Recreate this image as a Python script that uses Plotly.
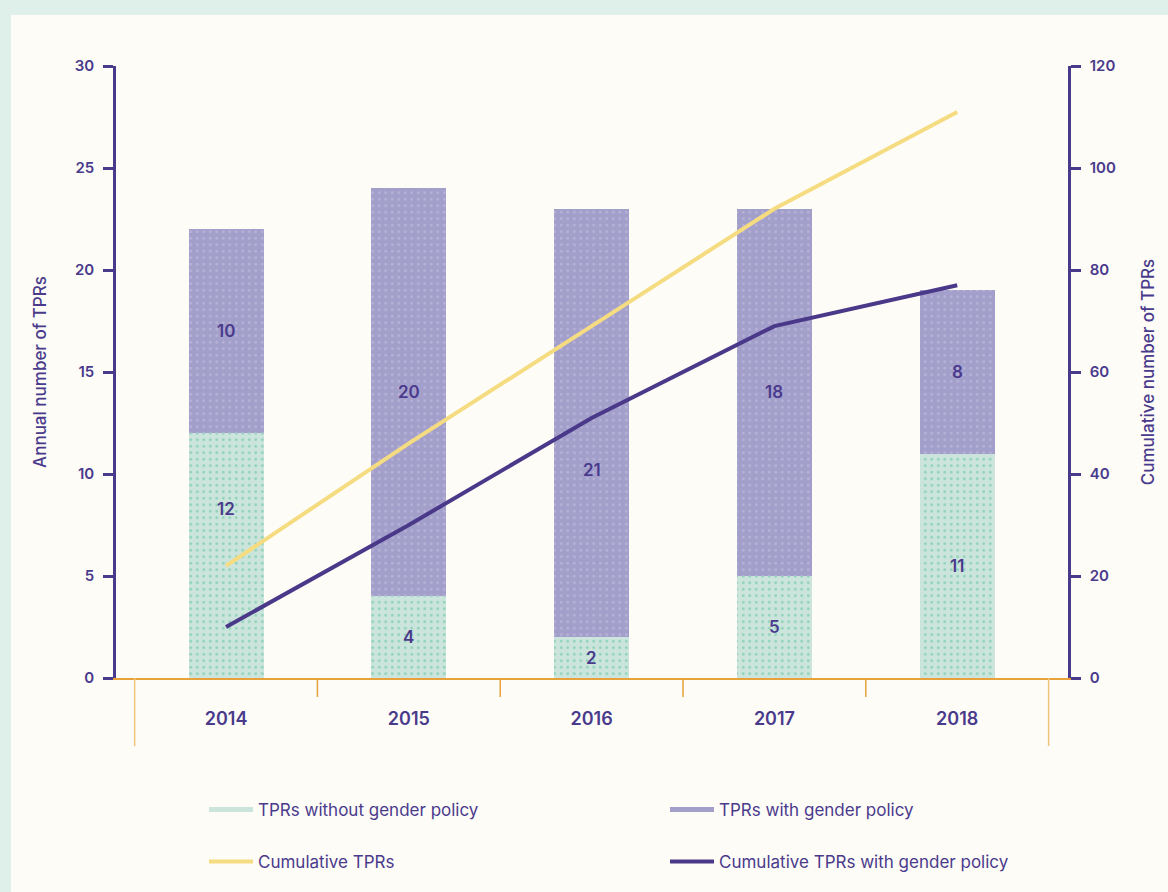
import plotly.graph_objects as go

# Annual TPR counts, split by whether a gender policy is in place
years = ["2014", "2015", "2016", "2017", "2018"]
without_policy = [12, 4, 2, 5, 11]
with_policy = [10, 20, 21, 18, 8]
cumulative_total = [22, 46, 69, 92, 111]
cumulative_with_policy = [10, 30, 51, 69, 77]

left_ticks = [0, 5, 10, 15, 20, 25, 30]
right_ticks = [0, 20, 40, 60, 80, 100, 120]

INK = "#4a3a8c"
GREEN_BG = "#cbe4dc"
GREEN_DOT = "#8dd2b8"
PURPLE_BG = "#a39fcb"
PURPLE_DOT = "#b7b3d8"
YELLOW = "#f6dc80"
NAVY = "#4a3889"
ORANGE = "#e8a23a"
ORANGE_LIGHT = "#f1c47e"
MINT = "#dff0ea"
CREAM = "#fdfcf7"
FONT = "Inter"

W, H = 1168, 892
M = dict(l=116, r=100, t=66, b=214)
PW = W - M["l"] - M["r"]
PH = H - M["t"] - M["b"]


def px_x(px):
    return (px - M["l"]) / PW


def px_y(py):
    return (H - M["b"] - py) / PH


fig = go.Figure()

fig.add_trace(go.Bar(
    x=years, y=without_policy, name="TPRs without gender policy",
    width=0.41, showlegend=False,
    marker=dict(color=GREEN_BG, line=dict(width=0),
                pattern=dict(shape=".", fgcolor=GREEN_DOT, bgcolor=GREEN_BG,
                             size=6.5, solidity=0.14, fillmode="replace")),
))
fig.add_trace(go.Bar(
    x=years, y=with_policy, name="TPRs with gender policy",
    width=0.41, showlegend=False,
    marker=dict(color=PURPLE_BG, line=dict(width=0),
                pattern=dict(shape=".", fgcolor=PURPLE_DOT, bgcolor=PURPLE_BG,
                             size=6.5, solidity=0.14, fillmode="replace")),
))
fig.add_trace(go.Scatter(
    x=years, y=cumulative_total, name="Cumulative TPRs", yaxis="y2",
    mode="lines", line=dict(color=YELLOW, width=4), legend="legend2",
))
fig.add_trace(go.Scatter(
    x=years, y=cumulative_with_policy, name="Cumulative TPRs with gender policy",
    yaxis="y2", mode="lines", line=dict(color=NAVY, width=4), legend="legend2",
))

# legend swatches for the stacked bars
fig.add_trace(go.Scatter(x=[None], y=[None], mode="lines", name="TPRs without gender policy",
                         line=dict(color=GREEN_BG, width=5), legend="legend"))
fig.add_trace(go.Scatter(x=[None], y=[None], mode="lines", name="TPRs with gender policy",
                         line=dict(color=PURPLE_BG, width=5), legend="legend"))

# value labels inside the bar segments (category axis: x is the serial index);
# two labels are nudged off their segment centre so the lines stay readable
lower_nudge = {"2014": 2.3}
upper_nudge = {"2016": -2.3}
label_font = dict(family=FONT, size=17, color=INK, weight=600)
for i, yr in enumerate(years):
    low_y = without_policy[i] / 2 + lower_nudge.get(yr, 0)
    up_y = without_policy[i] + with_policy[i] / 2 + upper_nudge.get(yr, 0)
    fig.add_annotation(x=i, y=low_y, text=str(without_policy[i]), showarrow=False,
                       font=label_font, xref="x", yref="y")
    fig.add_annotation(x=i, y=up_y, text=str(with_policy[i]), showarrow=False,
                       font=label_font, xref="x", yref="y")

shapes = [
    dict(type="rect", xref="paper", yref="paper", layer="below",
         x0=px_x(11), x1=px_x(W + 5), y0=px_y(H + 5), y1=px_y(15),
         fillcolor=CREAM, line=dict(width=0)),
]
n = len(years)
for k in range(n + 1):
    xb = k - 0.5
    if k in (0, n):
        shapes.append(dict(type="line", xref="x", yref="paper", x0=xb, x1=xb,
                           y0=0, y1=px_y(746), line=dict(color=ORANGE_LIGHT, width=1.5)))
    else:
        shapes.append(dict(type="line", xref="x", yref="paper", x0=xb, x1=xb,
                           y0=0, y1=px_y(697), line=dict(color=ORANGE, width=1.5)))

tick_font = dict(family=FONT, size=15, color=INK, weight=600)
title_font = dict(family=FONT, size=17, color=INK, weight=500)
legend_font = dict(family=FONT, size=17, color=INK)

fig.update_layout(
    width=W, height=H, margin=M,
    paper_bgcolor=MINT, plot_bgcolor="rgba(0,0,0,0)",
    barmode="stack", shapes=shapes,
    font=dict(family=FONT, color=INK),
    xaxis=dict(type="category", range=[-0.602, 4.606], showgrid=False, zeroline=False,
               showline=True, linecolor=ORANGE, linewidth=1.5, ticks="",
               tickfont=dict(family=FONT, size=18, color=INK, weight=600),
               ticklabelstandoff=24),
    yaxis=dict(range=[0, 30], tickvals=left_ticks, showgrid=False, zeroline=False,
               showline=True, linecolor=INK, linewidth=2.5, ticks="outside",
               ticklen=10, tickwidth=2.5, tickcolor=INK, tickfont=tick_font,
               ticklabelstandoff=6,
               title=dict(text="Annual number of TPRs", font=title_font, standoff=24)),
    yaxis2=dict(range=[0, 120], tickvals=right_ticks, overlaying="y", side="right",
                showgrid=False, zeroline=False, showline=True, linecolor=INK,
                linewidth=2.5, ticks="outside", ticklen=10, tickwidth=2.5,
                tickcolor=INK, tickfont=tick_font, ticklabelstandoff=6,
                title=dict(text="Cumulative number of TPRs", font=title_font, standoff=28)),
    legend=dict(orientation="h", xref="container", yref="container",
                x=204 / W, y=1 - 810 / H, xanchor="left", yanchor="middle",
                entrywidth=402, itemwidth=44, traceorder="normal",
                bgcolor="rgba(0,0,0,0)", font=legend_font),
    legend2=dict(orientation="h", xref="container", yref="container",
                 x=204 / W, y=1 - 862 / H, xanchor="left", yanchor="middle",
                 entrywidth=402, itemwidth=44, traceorder="normal",
                 bgcolor="rgba(0,0,0,0)", font=legend_font),
)

fig.write_html("out.html")
